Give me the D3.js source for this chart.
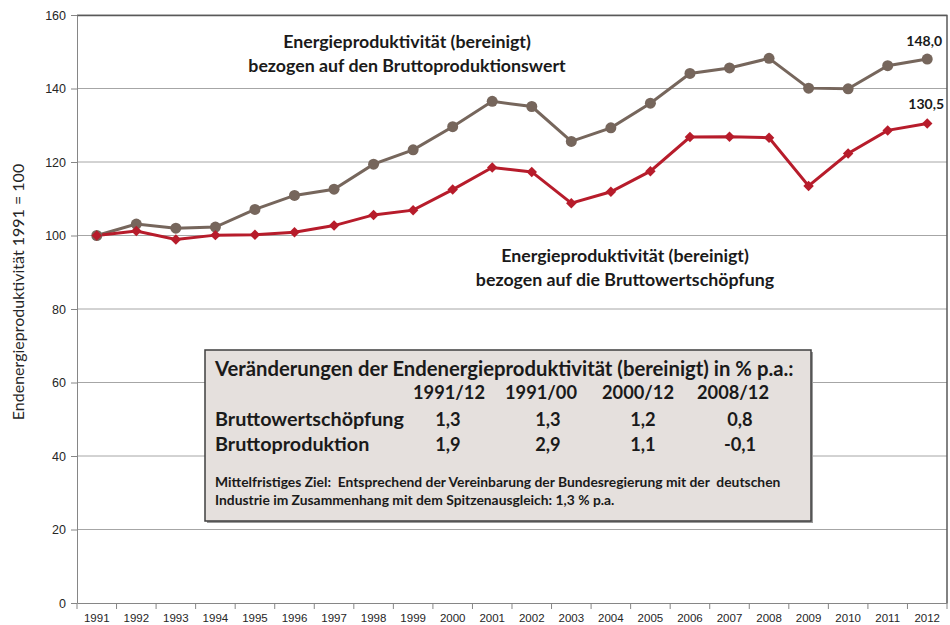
<!DOCTYPE html>
<html>
<head>
<meta charset="utf-8">
<script src="https://cdn.jsdelivr.net/npm/d3@7"></script>
<style>
  body { margin: 0; background: #fff; }
  svg { font-family: Lato, "Noto Sans", sans-serif; }
</style>
</head>
<body>
<svg width="950" height="625"></svg>
<script>
// Data (index 1991 = 100)
const years = ["1991","1992","1993","1994","1995","1996","1997","1998","1999","2000","2001",
               "2002","2003","2004","2005","2006","2007","2008","2009","2010","2011","2012"];
const produktionswert = [100, 103.1, 102.0, 102.3, 107.1, 110.9, 112.6, 119.4, 123.3, 129.6, 136.5,
                         135.1, 125.6, 129.3, 136.0, 144.1, 145.6, 148.2, 140.1, 139.9, 146.2, 148.0];
const wertschoepfung = [100, 101.2, 98.9, 100.1, 100.2, 100.9, 102.7, 105.6, 106.9, 112.5, 118.5,
                        117.3, 108.8, 111.9, 117.5, 126.8, 126.9, 126.6, 113.5, 122.3, 128.6, 130.5];
const yTicks = [0, 20, 40, 60, 80, 100, 120, 140, 160];

// Table in the box
const periods = ["1991/12", "1991/00", "2000/12", "2008/12"];
const rowLabels = ["Bruttowertschöpfung", "Bruttoproduktion"];
const rateWertschoepfung = ["1,3", "1,3", "1,2", "0,8"];
const rateProduktion = ["1,9", "2,9", "1,1", "-0,1"];

const svg = d3.select("svg");

// margins
const margin = {top: 15, right: 3, bottom: 22, left: 77};
const width = 950 - margin.left - margin.right;
const height = 625 - margin.top - margin.bottom;

const graph = svg.append("g")
  .attr("transform", `translate(${margin.left},${margin.top})`);

// scale the font so that a text fills a given width
function fitWidth(sel, w) {
  const size = parseFloat(sel.attr("font-size"));
  const len = sel.node().getComputedTextLength();
  sel.attr("font-size", size * w / len);
  return size * w / len;
}

// scales
const x = d3.scaleBand().domain(years).range([0, width]);
const y = d3.scaleLinear().domain([0, 160]).range([height, 0]);
const cx = d => x(d) + x.bandwidth() / 2;

// gridlines
graph.append("g").selectAll("line")
  .data(yTicks.filter(t => t > 0))
  .enter().append("line")
  .attr("x1", 0).attr("x2", width)
  .attr("y1", d => y(d)).attr("y2", d => y(d))
  .attr("stroke", "#a6a6a6")
  .attr("stroke-width", 1);

// top and right frame
graph.append("path")
  .attr("d", `M0,0.5H${width}V${height}`)
  .attr("fill", "none")
  .attr("stroke", "#595959")
  .attr("stroke-width", 1.5);

// y axis
const yAxis = d3.axisLeft(y).tickValues(yTicks).tickSize(6).tickPadding(5).tickSizeOuter(0);
const yAxisGroup = graph.append("g").call(yAxis);
yAxisGroup.select(".domain").attr("stroke", "#868686");
yAxisGroup.selectAll(".tick line").attr("stroke", "#868686");
yAxisGroup.selectAll("text")
  .attr("font-size", 12.5)
  .attr("fill", "#262626");

// x axis, ticks between the years
const xAxis = d3.axisBottom(x).tickSize(6).tickPadding(5).tickSizeOuter(0);
const xAxisGroup = graph.append("g")
  .attr("transform", `translate(0,${height})`)
  .call(xAxis);
xAxisGroup.select(".domain").attr("stroke", "#868686");
xAxisGroup.selectAll(".tick line")
  .attr("x1", -x.bandwidth() / 2).attr("x2", -x.bandwidth() / 2)
  .attr("stroke", "#868686");
xAxisGroup.append("line")
  .attr("x1", width).attr("x2", width).attr("y1", 0).attr("y2", 6)
  .attr("stroke", "#868686");
xAxisGroup.selectAll("text")
  .attr("font-size", 11.5)
  .attr("fill", "#262626");

// y axis title
svg.append("text")
  .attr("transform", "translate(24,292) rotate(-90)")
  .attr("text-anchor", "middle")
  .attr("font-size", 16)
  .attr("fill", "#262626")
  .text("Endenergieproduktivität 1991 = 100");

// lines
const line = d3.line()
  .x((d, i) => cx(years[i]))
  .y(d => y(d));

const grayCol = "#76665c";
const redCol = "#b71c2b";

graph.append("path")
  .datum(produktionswert)
  .attr("d", line)
  .attr("fill", "none")
  .attr("stroke", grayCol)
  .attr("stroke-width", 3);

graph.append("path")
  .datum(wertschoepfung)
  .attr("d", line)
  .attr("fill", "none")
  .attr("stroke", redCol)
  .attr("stroke-width", 3);

// markers
graph.append("g").selectAll("circle")
  .data(produktionswert)
  .enter().append("circle")
  .attr("cx", (d, i) => cx(years[i]))
  .attr("cy", d => y(d))
  .attr("r", 5.5)
  .attr("fill", grayCol);

const diamond = d3.symbol().type(d3.symbolDiamond2).size(70);
graph.append("g").selectAll("path")
  .data(wertschoepfung)
  .enter().append("path")
  .attr("d", diamond)
  .attr("transform", (d, i) => `translate(${cx(years[i])},${y(d)})`)
  .attr("fill", redCol);

// end value labels
const fmt = v => v.toFixed(1).replace(".", ",");
const last = years.length - 1;
graph.append("text")
  .attr("x", cx(years[last]) - 3)
  .attr("y", y(produktionswert[last]) - 13)
  .attr("text-anchor", "middle")
  .attr("font-size", 14).attr("font-weight", "bold").attr("fill", "#1a1a1a")
  .text(fmt(produktionswert[last]));
graph.append("text")
  .attr("x", cx(years[last]) - 1)
  .attr("y", y(wertschoepfung[last]) - 14)
  .attr("text-anchor", "middle")
  .attr("font-size", 14).attr("font-weight", "bold").attr("fill", "#1a1a1a")
  .text(fmt(wertschoepfung[last]));

// series annotations
function note(xc, y0, lines) {
  const t = svg.append("text")
    .attr("text-anchor", "middle")
    .attr("font-size", 15)
    .attr("font-weight", "bold")
    .attr("fill", "#1a1a1a");
  const spans = t.selectAll("tspan")
    .data(lines)
    .enter().append("tspan")
    .attr("x", xc)
    .attr("y", (d, i) => y0 + i * 24)
    .text(d => d);
  const len = spans.nodes()[0].getComputedTextLength();
  t.attr("font-size", 15 * 248 / len);
}
note(407, 48, ["Energieproduktivität (bereinigt)", "bezogen auf den Bruttoproduktionswert"]);
note(625, 262, ["Energieproduktivität (bereinigt)", "bezogen auf die Bruttowertschöpfung"]);

// info box
const box = svg.append("g").attr("transform", "translate(205,350)");
box.append("rect")
  .attr("x", 2).attr("y", 2)
  .attr("width", 606).attr("height", 171)
  .attr("fill", "#9a9a9a");
box.append("rect")
  .attr("width", 606).attr("height", 171)
  .attr("fill", "#e5e0dd")
  .attr("stroke", "#3f3f3f")
  .attr("stroke-width", 1.5);

const boxTitle = box.append("text")
  .attr("x", 10).attr("y", 26)
  .attr("font-size", 19).attr("font-weight", "bold").attr("fill", "#1a1a1a")
  .text("Veränderungen der Endenergieproduktivität (bereinigt) in % p.a.:");
fitWidth(boxTitle, 579);

const colX = [244, 336, 433, 528];
const valX = [243, 343, 438, 535];
const headers = box.append("g").selectAll("text")
  .data(periods)
  .enter().append("text")
  .attr("x", (d, i) => colX[i]).attr("y", 49)
  .attr("text-anchor", "middle")
  .attr("font-size", 18).attr("font-weight", "bold").attr("fill", "#1a1a1a")
  .text(d => d);
const cellSize = fitWidth(d3.select(headers.nodes()[0]), 72);
headers.attr("font-size", cellSize);

const rows = [rateWertschoepfung, rateProduktion];
let labelSize = 18;
rows.forEach((vals, r) => {
  const yy = 76 + r * 25;
  const lab = box.append("text")
    .attr("x", 10).attr("y", yy)
    .attr("font-size", labelSize).attr("font-weight", "bold").attr("fill", "#1a1a1a")
    .text(rowLabels[r]);
  if (r === 0) labelSize = fitWidth(lab, 189);
  box.append("g").selectAll("text")
    .data(vals)
    .enter().append("text")
    .attr("x", (d, i) => valX[i]).attr("y", yy)
    .attr("text-anchor", "middle")
    .attr("font-size", cellSize).attr("font-weight", "bold").attr("fill", "#1a1a1a")
    .text(d => d);
});

const foot1 = box.append("text")
  .attr("x", 10).attr("y", 137)
  .attr("font-size", 11).attr("font-weight", "bold").attr("fill", "#1a1a1a")
  .attr("xml:space", "preserve")
  .text("Mittelfristiges Ziel:  Entsprechend der Vereinbarung der Bundesregierung mit der  deutschen");
fitWidth(foot1, 566);
box.append("text")
  .attr("x", 10).attr("y", 155)
  .attr("font-size", foot1.attr("font-size")).attr("font-weight", "bold").attr("fill", "#1a1a1a")
  .text("Industrie im Zusammenhang mit dem Spitzenausgleich: 1,3 % p.a.");
</script>
</body>
</html>
